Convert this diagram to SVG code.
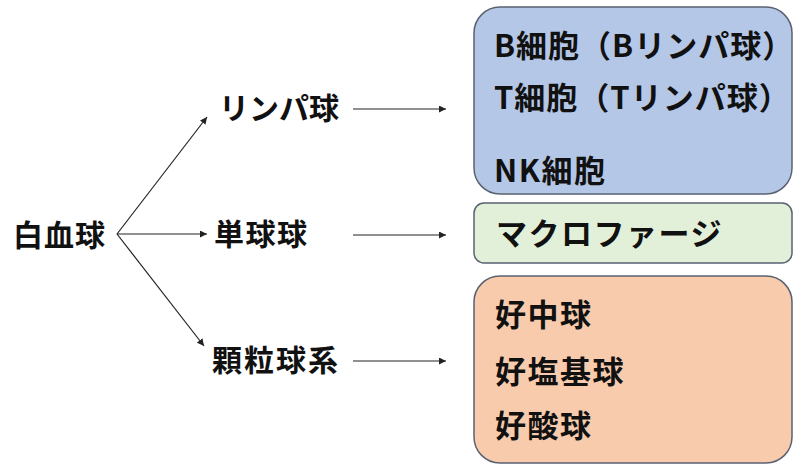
<svg xmlns="http://www.w3.org/2000/svg" width="800" height="469" viewBox="0 0 800 469">
<style>
.t{font-family:"Noto Sans CJK JP","Noto Sans CJK SC",sans-serif;font-weight:bold;font-size:31px;letter-spacing:1.5px;fill:#111;dominant-baseline:central}
.l{font-size:30px}
.box{stroke:#5a6270;stroke-width:1.5}
.c{stroke:#222;stroke-width:1.2;fill:none;marker-end:url(#ah)}
</style>
<defs>
<marker id="ah" viewBox="0 0 10 10" refX="10" refY="5" markerWidth="7" markerHeight="7" markerUnits="userSpaceOnUse" orient="auto">
<path d="M0,0L10,5L0,10z" fill="#222"/>
</marker>
</defs>
<rect width="800" height="469" fill="#fff"/>
<g id="connectors">
<line class="c" x1="117" y1="234" x2="207" y2="117"/>
<line class="c" x1="117" y1="234" x2="207" y2="234"/>
<line class="c" x1="117" y1="234" x2="204" y2="346"/>
<line class="c" x1="353" y1="109" x2="446" y2="109"/>
<line class="c" x1="353" y1="235" x2="446" y2="235"/>
<line class="c" x1="353" y1="361" x2="446" y2="361"/>
</g>
<g id="wbc"><text class="t l" x="13" y="233" style="letter-spacing:1px">白血球</text></g>
<g id="lymph"><text class="t l" x="219" y="106" style="letter-spacing:0px">リンパ球</text></g>
<g id="mono"><text class="t l" x="214" y="232">単球球</text></g>
<g id="gran"><text class="t l" x="212" y="358" style="letter-spacing:2px">顆粒球系</text></g>
<g id="lymph-box">
<rect class="box" x="474" y="7" width="318" height="187" rx="26" fill="#B4C7E7"/>
<text class="t" x="494" y="43" style="letter-spacing:1px">B細胞（Bリンパ球）</text>
<text class="t" x="494" y="95" style="letter-spacing:1px">T細胞（Tリンパ球）</text>
<text class="t" x="494" y="168">NK細胞</text>
</g>
<g id="macro-box">
<rect class="box" x="474" y="203" width="318" height="60" rx="10" fill="#E2F0D9"/>
<text class="t" x="496" y="231">マクロファージ</text>
</g>
<g id="gran-box">
<rect class="box" x="474" y="276" width="318" height="187" rx="26" fill="#F8CBAD"/>
<text class="t" x="495" y="312">好中球</text>
<text class="t" x="495" y="369">好塩基球</text>
<text class="t" x="495" y="423">好酸球</text>
</g>
</svg>
